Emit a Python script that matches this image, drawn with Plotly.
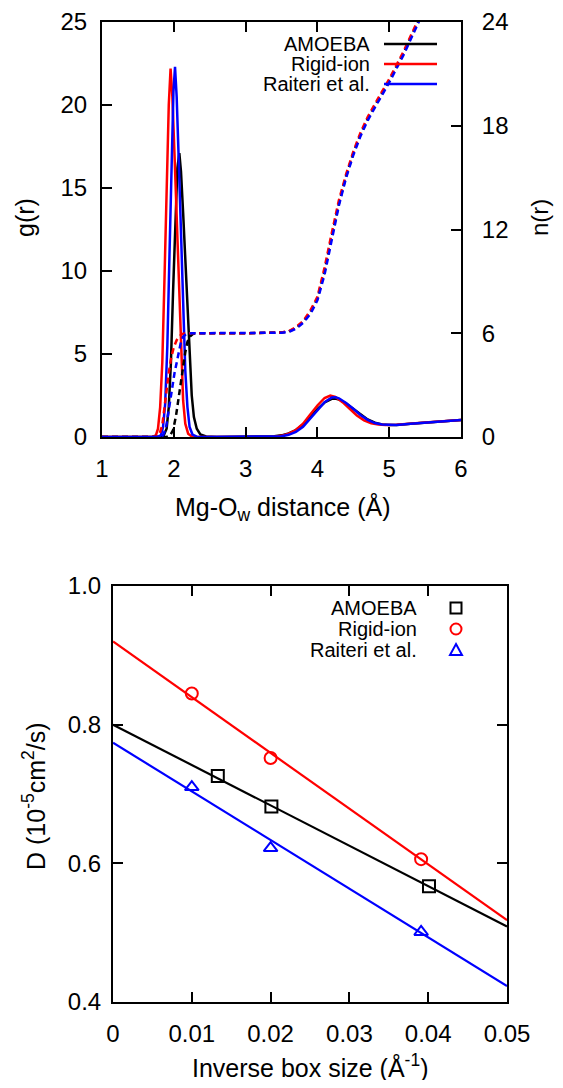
import plotly.graph_objects as go

# ---------------- Top panel data: Mg-Ow g(r) and n(r) ----------------
series_names = ["AMOEBA", "Rigid-ion", "Raiteri et al."]
series_colors = ["#000000", "#ff0000", "#0000ff"]

# g(r), AMOEBA
r_g_amoeba = [1.0, 1.80, 1.86, 1.90, 1.93, 1.96, 1.99, 2.02, 2.05, 2.077, 2.10, 2.13, 2.16, 2.19, 2.22, 2.25, 2.28, 2.32, 2.37, 2.45, 2.6,
              3.0, 3.3, 3.4, 3.5, 3.6, 3.7, 3.8, 3.9, 4.0, 4.1, 4.2, 4.25, 4.3, 4.4, 4.5, 4.6, 4.7, 4.8, 4.9, 5.0, 5.1, 5.3, 5.5, 5.75, 6.0]
g_amoeba = [0, 0, 0.1, 0.5, 1.8, 4.5, 8.8, 13.0, 16.2, 17.1, 16.0, 13.5, 10.5, 7.5, 4.5, 2.5, 1.2, 0.5, 0.15, 0.03, 0,
            0, 0.01, 0.04, 0.1, 0.22, 0.42, 0.75, 1.2, 1.68, 2.08, 2.3, 2.32, 2.26, 2.02, 1.7, 1.36, 1.06, 0.86, 0.76, 0.73, 0.73, 0.8, 0.87, 0.95, 1.02]

# g(r), Rigid-ion
r_g_rigid = [1.0, 1.70, 1.75, 1.78, 1.81, 1.84, 1.87, 1.90, 1.93, 1.955, 1.98, 2.01, 2.04, 2.07, 2.10, 2.13, 2.16, 2.20, 2.25, 2.3,
             3.0, 3.3, 3.4, 3.5, 3.6, 3.7, 3.8, 3.9, 4.0, 4.1, 4.18, 4.25, 4.35, 4.45, 4.55, 4.65, 4.75, 4.85, 4.95, 5.1, 5.3, 5.5, 5.75, 6.0]
g_rigid = [0, 0, 0.1, 0.5, 1.8, 4.5, 9.5, 15.0, 20.0, 22.2, 20.5, 17.0, 13.0, 9.0, 5.0, 2.2, 0.8, 0.2, 0.03, 0,
           0, 0.005, 0.02, 0.07, 0.2, 0.42, 0.8, 1.35, 1.9, 2.35, 2.49, 2.42, 2.1, 1.7, 1.3, 1.0, 0.83, 0.75, 0.72, 0.74, 0.82, 0.88, 0.95, 1.02]

# g(r), Raiteri et al.
r_g_raiteri = [1.0, 1.77, 1.82, 1.85, 1.88, 1.91, 1.94, 1.97, 1.995, 2.017, 2.04, 2.07, 2.10, 2.13, 2.16, 2.19, 2.22, 2.26, 2.32, 2.4,
               3.0, 3.4, 3.5, 3.6, 3.7, 3.8, 3.9, 4.0, 4.1, 4.2, 4.25, 4.3, 4.4, 4.5, 4.6, 4.7, 4.8, 4.9, 5.0, 5.1, 5.3, 5.5, 5.75, 6.0]
g_raiteri = [0, 0, 0.1, 0.6, 2.0, 5.5, 11.0, 16.5, 20.8, 22.3, 20.5, 16.5, 12.5, 8.0, 4.0, 1.8, 0.6, 0.15, 0.02, 0,
             0, 0.01, 0.04, 0.13, 0.3, 0.62, 1.1, 1.62, 2.1, 2.38, 2.4, 2.33, 2.05, 1.7, 1.33, 1.03, 0.84, 0.75, 0.72, 0.73, 0.8, 0.87, 0.95, 1.02]

# n(r) running coordination numbers
r_n_amoeba = [1.0, 1.90, 1.95, 1.99, 2.03, 2.06, 2.10, 2.13, 2.16, 2.19, 2.22, 2.27, 2.35, 3.0, 3.4, 3.5, 3.6, 3.7, 3.8, 3.9,
              4.0, 4.1, 4.2, 4.3, 4.4, 4.5, 4.6, 4.7, 4.8, 4.9, 5.0, 5.1, 5.2, 5.3, 5.4, 5.5]
n_amoeba = [0, 0, 0.1, 0.4, 1.2, 2.1, 3.3, 4.1, 4.9, 5.5, 5.8, 5.97, 6.0, 6.0, 6.02, 6.05, 6.1, 6.3, 6.65, 7.2,
            8.0, 9.6, 11.6, 13.5, 15.1, 16.4, 17.5, 18.4, 19.15, 19.85, 20.6, 21.4, 22.2, 23.1, 24.0, 24.9]

r_n_rigid = [1.0, 1.76, 1.80, 1.84, 1.87, 1.90, 1.93, 1.96, 2.00, 2.04, 2.08, 2.13, 2.2, 3.0, 3.4, 3.5, 3.6, 3.7, 3.8, 3.9,
             4.0, 4.1, 4.2, 4.3, 4.4, 4.5, 4.6, 4.7, 4.8, 4.9, 5.0, 5.1, 5.2, 5.3, 5.4, 5.5]
n_rigid = [0, 0, 0.15, 0.7, 1.7, 2.8, 3.7, 4.5, 5.2, 5.6, 5.85, 5.97, 6.0, 6.0, 6.02, 6.05, 6.12, 6.35, 6.7, 7.3,
           8.1, 9.8, 11.8, 13.7, 15.2, 16.5, 17.6, 18.5, 19.25, 19.95, 20.7, 21.5, 22.3, 23.2, 24.1, 25.0]

r_n_raiteri = [1.0, 1.80, 1.85, 1.89, 1.92, 1.95, 1.98, 2.01, 2.04, 2.07, 2.10, 2.13, 2.17, 2.25, 3.0, 3.4, 3.5, 3.6, 3.7, 3.8, 3.9,
               4.0, 4.1, 4.2, 4.3, 4.4, 4.5, 4.6, 4.7, 4.8, 4.9, 5.0, 5.1, 5.2, 5.3, 5.4, 5.5]
n_raiteri = [0, 0, 0.1, 0.5, 1.3, 2.2, 3.0, 3.7, 4.3, 5.0, 5.5, 5.8, 5.95, 6.0, 6.0, 6.01, 6.03, 6.08, 6.25, 6.6, 7.1,
             7.9, 9.4, 11.4, 13.4, 15.0, 16.3, 17.4, 18.3, 19.05, 19.75, 20.5, 21.3, 22.1, 23.0, 23.9, 24.8]

g_ticks = [0, 5, 10, 15, 20, 25]
n_ticks = [0, 6, 12, 18, 24]
r_ticks = [1, 2, 3, 4, 5, 6]

# ---------------- Bottom panel data: diffusion coefficient ----------------
inv_box_amoeba = [0.0133, 0.0201, 0.0401]
D_amoeba = [0.726, 0.682, 0.567]
inv_box_rigid = [0.0100, 0.0200, 0.0391]
D_rigid = [0.845, 0.752, 0.606]
inv_box_raiteri = [0.0100, 0.0200, 0.0391]
D_raiteri = [0.710, 0.622, 0.501]

fit_x = [0.0, 0.05]
fit_amoeba = [0.800, 0.509]
fit_rigid = [0.920, 0.518]
fit_raiteri = [0.774, 0.423]

D_ticks = [0.4, 0.6, 0.8, 1.0]
inv_ticks = [0, 0.01, 0.02, 0.03, 0.04, 0.05]

FONT = "Liberation Sans, Arial, Helvetica, sans-serif"
# the page body keeps an 8px margin, so the figure is drawn 8px in from the window edges
OFF = 8
WIN_W, WIN_H = 563, 1088
W, H = WIN_W - 2 * OFF, WIN_H - 2 * OFF

fig = go.Figure()

g_data = [(r_g_amoeba, g_amoeba), (r_g_rigid, g_rigid), (r_g_raiteri, g_raiteri)]
n_data = [(r_n_amoeba, n_amoeba), (r_n_rigid, n_rigid), (r_n_raiteri, n_raiteri)]

for (rx, gy), name, col in zip(g_data, series_names, series_colors):
    fig.add_trace(go.Scatter(x=rx, y=gy, mode="lines", name=name, line=dict(color=col, width=2.5),
                             xaxis="x", yaxis="y", showlegend=False))
for (rx, ny), name, col in zip(n_data, series_names, series_colors):
    fig.add_trace(go.Scatter(x=rx, y=ny, mode="lines", name=name, line=dict(color=col, width=2.5, dash="6px,4px"),
                             xaxis="x", yaxis="y2", showlegend=False))

fits = [fit_amoeba, fit_rigid, fit_raiteri]
pts = [(inv_box_amoeba, D_amoeba, "square-open"), (inv_box_rigid, D_rigid, "circle-open"),
       (inv_box_raiteri, D_raiteri, "triangle-up-open")]
for fy, col in zip(fits, series_colors):
    fig.add_trace(go.Scatter(x=fit_x, y=fy, mode="lines", line=dict(color=col, width=2.2),
                             xaxis="x2", yaxis="y3", showlegend=False))
for (px, py, sym), name, col in zip(pts, series_names, series_colors):
    fig.add_trace(go.Scatter(x=px, y=py, mode="markers", name=name,
                             marker=dict(symbol=sym, size=12, color=col, line=dict(color=col, width=2)),
                             xaxis="x2", yaxis="y3", showlegend=False))

def px2x(p):
    return (p - OFF) / W

def px2y(p):
    return 1 - (p - OFF) / H

# plot areas in window pixels
T_L, T_R, T_T, T_B = 102, 461, 22, 437
B_L, B_R, B_T, B_B = 113, 507, 586, 1002

axis_common = dict(showline=True, linecolor="black", linewidth=2, ticks="inside", ticklen=10,
                   tickwidth=2, tickcolor="black", showgrid=False, zeroline=False, automargin=False,
                   tickfont=dict(family=FONT, size=24, color="black"))

fig.update_layout(
    template="none",
    width=W, height=H, margin=dict(l=0, r=0, t=0, b=0, pad=0, autoexpand=False),
    paper_bgcolor="white", plot_bgcolor="white", showlegend=False,
    xaxis=dict(domain=[px2x(T_L), px2x(T_R)], range=[1, 6], tickvals=r_ticks, mirror="ticks",
               anchor="y", ticklabelstandoff=9, **axis_common),
    yaxis=dict(domain=[px2y(T_B), px2y(T_T)], range=[0, 25], tickvals=g_ticks, anchor="x",
               ticklabelstandoff=8, **axis_common),
    yaxis2=dict(range=[0, 24], tickvals=n_ticks, overlaying="y", side="right", anchor="x",
                ticklabelstandoff=14, **axis_common),
    xaxis2=dict(domain=[px2x(B_L), px2x(B_R)], range=[0, 0.05], tickvals=inv_ticks,
                ticktext=[("0" if v == 0 else f"{v:.2f}") for v in inv_ticks],
                mirror="ticks", anchor="y3", ticklabelstandoff=9, **axis_common),
    yaxis3=dict(domain=[px2y(B_B), px2y(B_T)], range=[0.4, 1.0], tickvals=D_ticks,
                ticktext=[f"{v:.1f}" for v in D_ticks], mirror="ticks", anchor="x2",
                ticklabelstandoff=5, **axis_common),
)

ann = []
title_font = dict(family=FONT, size=25, color="black")
ann.append(dict(text="g(r)", x=px2x(25), y=px2y(218), xref="paper", yref="paper", textangle=-90,
                showarrow=False, font=title_font, xanchor="center", yanchor="middle", borderpad=0))
ann.append(dict(text="n(r)", x=px2x(539), y=px2y(218), xref="paper", yref="paper", textangle=-90,
                showarrow=False, font=dict(family=FONT, size=24, color="black"),
                xanchor="center", yanchor="middle", borderpad=0))
ann.append(dict(text="Mg-O<sub>w</sub> distance (Å)", x=px2x(282), y=px2y(508), xref="paper", yref="paper",
                showarrow=False, font=title_font, xanchor="center", yanchor="middle"))
ann.append(dict(text="D (10<sup>-5</sup>cm<sup>2</sup>/s)", x=px2x(34), y=px2y(796), xref="paper", yref="paper",
                textangle=-90, showarrow=False, font=title_font, xanchor="center", yanchor="middle"))
ann.append(dict(text="Inverse box size (Å<sup>-1</sup>)", x=px2x(310), y=px2y(1066), xref="paper", yref="paper",
                showarrow=False, font=title_font, xanchor="center", yanchor="middle"))

leg_font = dict(family=FONT, size=20, color="black")
shapes = []
# top legend (text + line sample)
top_rows = [44, 64, 84]
for name, col, yy in zip(series_names, series_colors, top_rows):
    ann.append(dict(text=name, x=px2x(372), y=px2y(yy), xref="paper", yref="paper", showarrow=False,
                    font=leg_font, xanchor="right", yanchor="middle"))
    shapes.append(dict(type="line", xref="paper", yref="paper", x0=px2x(384), x1=px2x(437),
                       y0=px2y(yy), y1=px2y(yy), line=dict(color=col, width=2.5)))

# bottom legend (text + marker sample)
bot_rows = [608, 629, 650]
for name, yy in zip(series_names, bot_rows):
    ann.append(dict(text=name, x=px2x(419), y=px2y(yy), xref="paper", yref="paper", showarrow=False,
                    font=leg_font, xanchor="right", yanchor="middle"))
s = 5.5
cx = 456
shapes.append(dict(type="rect", xref="paper", yref="paper", x0=px2x(cx - s), x1=px2x(cx + s),
                   y0=px2y(bot_rows[0] - s), y1=px2y(bot_rows[0] + s), line=dict(color="black", width=2)))
shapes.append(dict(type="circle", xref="paper", yref="paper", x0=px2x(cx - s), x1=px2x(cx + s),
                   y0=px2y(bot_rows[1] - s), y1=px2y(bot_rows[1] + s), line=dict(color="#ff0000", width=2)))
ty = bot_rows[2]
tri = f"M {px2x(cx)} {px2y(ty - 6)} L {px2x(cx + 6)} {px2y(ty + 5)} L {px2x(cx - 6)} {px2y(ty + 5)} Z"
shapes.append(dict(type="path", xref="paper", yref="paper", path=tri, line=dict(color="#0000ff", width=2)))

fig.update_layout(annotations=ann, shapes=shapes)

fig.write_html("out.html")
